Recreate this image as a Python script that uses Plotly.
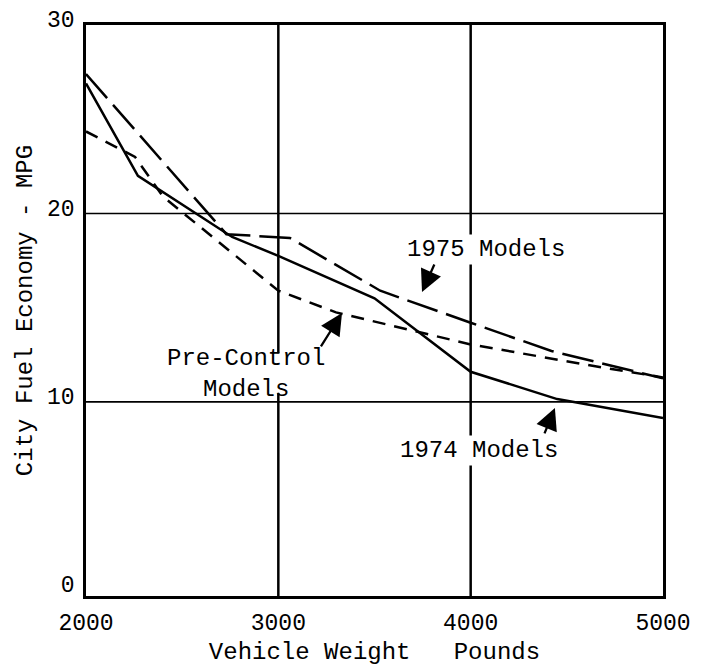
import plotly.graph_objects as go

# ---- data ----
weight_1974 = [2000, 2270, 2760, 3000, 3500, 4000, 4450, 5000]
mpg_1974 = [26.9, 22.0, 18.75, 17.75, 15.5, 11.6, 10.15, 9.15]

weight_1975 = [2000, 2730, 3060, 3530, 4000, 4420, 5000]
mpg_1975 = [27.4, 18.9, 18.7, 15.9, 14.2, 12.7, 11.25]

weight_pre = [2000, 2255, 2400, 3000, 3300, 4000, 4670, 5000]
mpg_pre = [24.35, 23.0, 20.9, 15.9, 14.75, 13.05, 11.85, 11.3]

x_ticks = [2000, 3000, 4000, 5000]
y_ticks = [0, 10, 20, 30]
x_grid = [3000, 4000]
y_grid = [10, 20]

FONT = "Liberation Mono"

fig = go.Figure()
fig.add_trace(go.Scatter(x=weight_1974, y=mpg_1974, mode="lines", name="1974 Models",
                         line=dict(color="black", width=2.5)))
fig.add_trace(go.Scatter(x=weight_1975, y=mpg_1975, mode="lines", name="1975 Models",
                         line=dict(color="black", width=2.5, dash="32px,9px")))
fig.add_trace(go.Scatter(x=weight_pre, y=mpg_pre, mode="lines", name="Pre-Control Models",
                         line=dict(color="black", width=2.5, dash="13px,9px")))

shapes = []
# vertical grid at 3000 is interrupted where the "Pre-Control Models" label sits
shapes.append(dict(type="line", xref="x", yref="y domain", x0=x_grid[0], x1=x_grid[0],
                   y0=0, y1=0.355, line=dict(color="black", width=2.5), layer="below"))
shapes.append(dict(type="line", xref="x", yref="y domain", x0=x_grid[0], x1=x_grid[0],
                   y0=0.425, y1=1, line=dict(color="black", width=2.5), layer="below"))
shapes.append(dict(type="line", xref="x", yref="y domain", x0=x_grid[1], x1=x_grid[1],
                   y0=0, y1=1, line=dict(color="black", width=2.5), layer="below"))
for gy in y_grid:
    shapes.append(dict(type="line", xref="x domain", yref="y", x0=0, x1=1, y0=gy, y1=gy,
                       line=dict(color="black", width=1.6), layer="below"))

ann_font = dict(family=FONT, size=24, color="black")
annotations = [
    dict(x=4080, y=18.1, text="1975 Models", showarrow=False, font=ann_font,
         bgcolor="white", borderpad=1),
    dict(x=4043, y=7.4, text="1974 Models", showarrow=False, font=ann_font,
         bgcolor="white", borderpad=1),
    dict(x=2830, y=11.5, text="Pre-Control<br>Models", showarrow=False, font=ann_font,
         align="center"),
    # arrows
    dict(x=3747, y=15.83, ax=13, ay=-29, text="", showarrow=True, arrowhead=2,
         arrowsize=1.9, arrowwidth=2.3, arrowcolor="black"),
    dict(x=4438, y=9.68, ax=-11, ay=27, text="", showarrow=True, arrowhead=2,
         arrowsize=1.9, arrowwidth=2.3, arrowcolor="black"),
    dict(x=3331, y=14.72, ax=-22, ay=35, text="", showarrow=True, arrowhead=2,
         arrowsize=1.9, arrowwidth=2.3, arrowcolor="black"),
]

fig.update_layout(
    width=694, height=666,
    margin=dict(l=78, r=39, t=17, b=78),
    paper_bgcolor="white", plot_bgcolor="white",
    showlegend=False,
    font=dict(family=FONT, size=24, color="black"),
    shapes=shapes,
    annotations=annotations,
    xaxis=dict(range=[2000, 5000], tickvals=x_ticks, ticktext=[str(v) for v in x_ticks],
               showgrid=False, zeroline=False, showline=True, mirror=True,
               linecolor="black", linewidth=2.5, ticks="", ticklabelstandoff=4,
               automargin=False,
               tickfont=dict(family=FONT, size=23, color="black"),
               title=dict(text="Vehicle Weight\u00a0\u00a0\u00a0Pounds",
                          font=dict(family=FONT, size=24, color="black"), standoff=6)),
    yaxis=dict(range=[-0.3, 30], tickvals=y_ticks, ticktext=[str(v) for v in y_ticks],
               showgrid=False, zeroline=False, showline=True, mirror=True,
               linecolor="black", linewidth=2.5, ticks="", ticklabelstandoff=4,
               ticklabelshift=-6, automargin=False,
               tickfont=dict(family=FONT, size=23, color="black"),
               title=dict(text="City Fuel Economy - MPG",
                          font=dict(family=FONT, size=24, color="black"), standoff=8)),
)

fig.write_html("out.html")
